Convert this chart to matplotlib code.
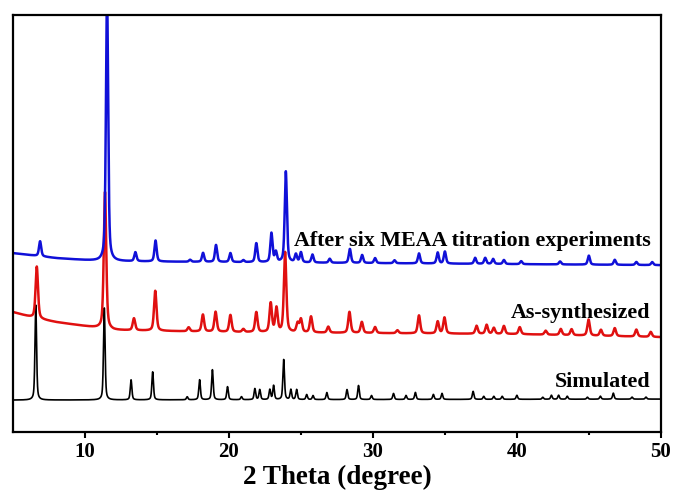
"""XRD patterns: simulated vs. as-synthesized vs. after MEAA titration cycles."""
import matplotlib.pyplot as plt
import numpy as np

plt.rcParams["font.family"] = ["Liberation Serif", "DejaVu Serif"]
plt.rcParams["font.weight"] = "bold"

# peak positions (2 theta, degree) and heights (a.u.)
sim_pos = [6.58, 11.34, 13.2, 14.7, 17.1, 17.96, 18.85, 19.9, 20.87, 21.8, 22.14,
           22.84, 23.1, 23.8, 24.3, 24.7, 25.4, 25.84, 26.8, 28.2, 29.0, 29.9,
           31.43, 32.3, 32.95, 34.2, 34.8, 36.96, 37.7, 38.4, 38.98, 40.0, 41.8,
           42.4, 42.9, 43.5, 44.9, 45.8, 46.7, 48.0, 48.97]
sim_h = [95, 92, 20, 28, 3, 20, 30, 13, 3, 11, 10,
         10, 14, 40, 10, 10, 5, 4, 7, 10, 14, 4,
         6, 4, 7, 5, 6, 8, 3, 3, 3, 4, 2,
         4, 4, 3, 2, 3, 6, 2, 2]

syn_pos = [6.65, 11.39, 13.4, 14.88, 17.2, 18.19, 19.07, 20.1, 21.0, 21.9, 22.9,
           23.3, 23.9, 24.77, 25.0, 25.7, 26.9, 28.37, 29.23, 30.15, 31.7, 33.2,
           34.5, 34.97, 37.2, 37.9, 38.4, 39.1, 40.2, 42.0, 43.05, 43.8, 44.98,
           45.84, 46.8, 48.3, 49.3]
syn_h = [52, 137, 12, 40, 4, 17, 20, 17, 3, 20, 29,
         24, 80, 9, 13, 16, 6, 21, 11, 6, 3, 18,
         12, 16, 8, 9, 6, 8, 7, 4, 6, 6, 16,
         6, 8, 7, 5]

aft_pos = [6.88, 11.53, 13.5, 14.9, 17.3, 18.2, 19.1, 20.1, 21.0, 21.9, 22.95,
           23.26, 23.95, 24.65, 25.0, 25.8, 27.0, 28.4, 29.25, 30.15, 31.5, 33.2,
           34.5, 35.0, 37.1, 37.8, 38.35, 39.1, 40.3, 43.0, 45.0, 46.8, 48.3, 49.4]
aft_h = [15, 270, 9, 21, 2, 9, 17, 9, 2, 19, 29,
         10, 91, 8, 10, 8, 4, 14, 8, 5, 3, 10,
         11, 12, 6, 6, 5, 4, 3, 3, 9, 5, 3, 3]

# background levels (already stacked with offsets)
sim_bg_x = [5, 50]
sim_bg_y = [32, 33]
syn_bg_x = [5, 6.5, 8, 10.5, 12, 20, 30, 40, 50]
syn_bg_y = [120, 114, 110, 105, 102, 100, 99, 98, 95]
aft_bg_x = [5, 8, 11, 20, 30, 50]
aft_bg_y = [179, 174, 171, 170, 169, 167]

labels = ["Simulated", "As-synthesized", "After six MEAA titration experiments"]
label_y = [50, 119, 191]


def pattern(x, pos, h, fwhm, bg_x, bg_y):
    y = np.interp(x, bg_x, bg_y)
    s = fwhm / 2.3548
    g = fwhm / 2
    for p, a in zip(pos, h):
        d = x - p
        y = y + a * (0.5 * np.exp(-d ** 2 / (2 * s ** 2)) + 0.5 * g ** 2 / (d ** 2 + g ** 2))
    return y


tt = np.arange(5, 50.001, 0.005)

fig = plt.figure(figsize=(6.75, 4.91), dpi=100)
ax = fig.add_axes([0.0193, 0.120, 0.9597, 0.849])

ax.plot(tt, pattern(tt, sim_pos, sim_h, 0.13, sim_bg_x, sim_bg_y), color="black", lw=1.2)
ax.plot(tt, pattern(tt, syn_pos, syn_h, 0.2, syn_bg_x, syn_bg_y), color="#e01010", lw=1.8)
ax.plot(tt, pattern(tt, aft_pos, aft_h, 0.18, aft_bg_x, aft_bg_y), color="#1010d8", lw=1.8)

for txt, ty in zip(labels, label_y):
    ax.text(49.3, ty, txt, ha="right", va="center", fontsize=15.8, fontweight="bold")

ax.set_xlim(5, 50)
ax.set_ylim(0, 417)
ax.set_xticks([10, 20, 30, 40, 50])
ax.set_xticks([15, 25, 35, 45], minor=True)
ax.set_yticks([])
ax.tick_params(axis="x", which="major", direction="out", length=4.5, width=1.5,
               labelsize=15, pad=3)
ax.tick_params(axis="x", which="minor", direction="out", length=2.5, width=1.5)
for lab in ax.get_xticklabels():
    lab.set_fontweight("bold")
for sp in ax.spines.values():
    sp.set_linewidth(1.6)
ax.set_xlabel("2 Theta (degree)", fontsize=19.5, fontweight="bold", labelpad=1.5)

plt.savefig("out.png", dpi=100)
plt.close()
